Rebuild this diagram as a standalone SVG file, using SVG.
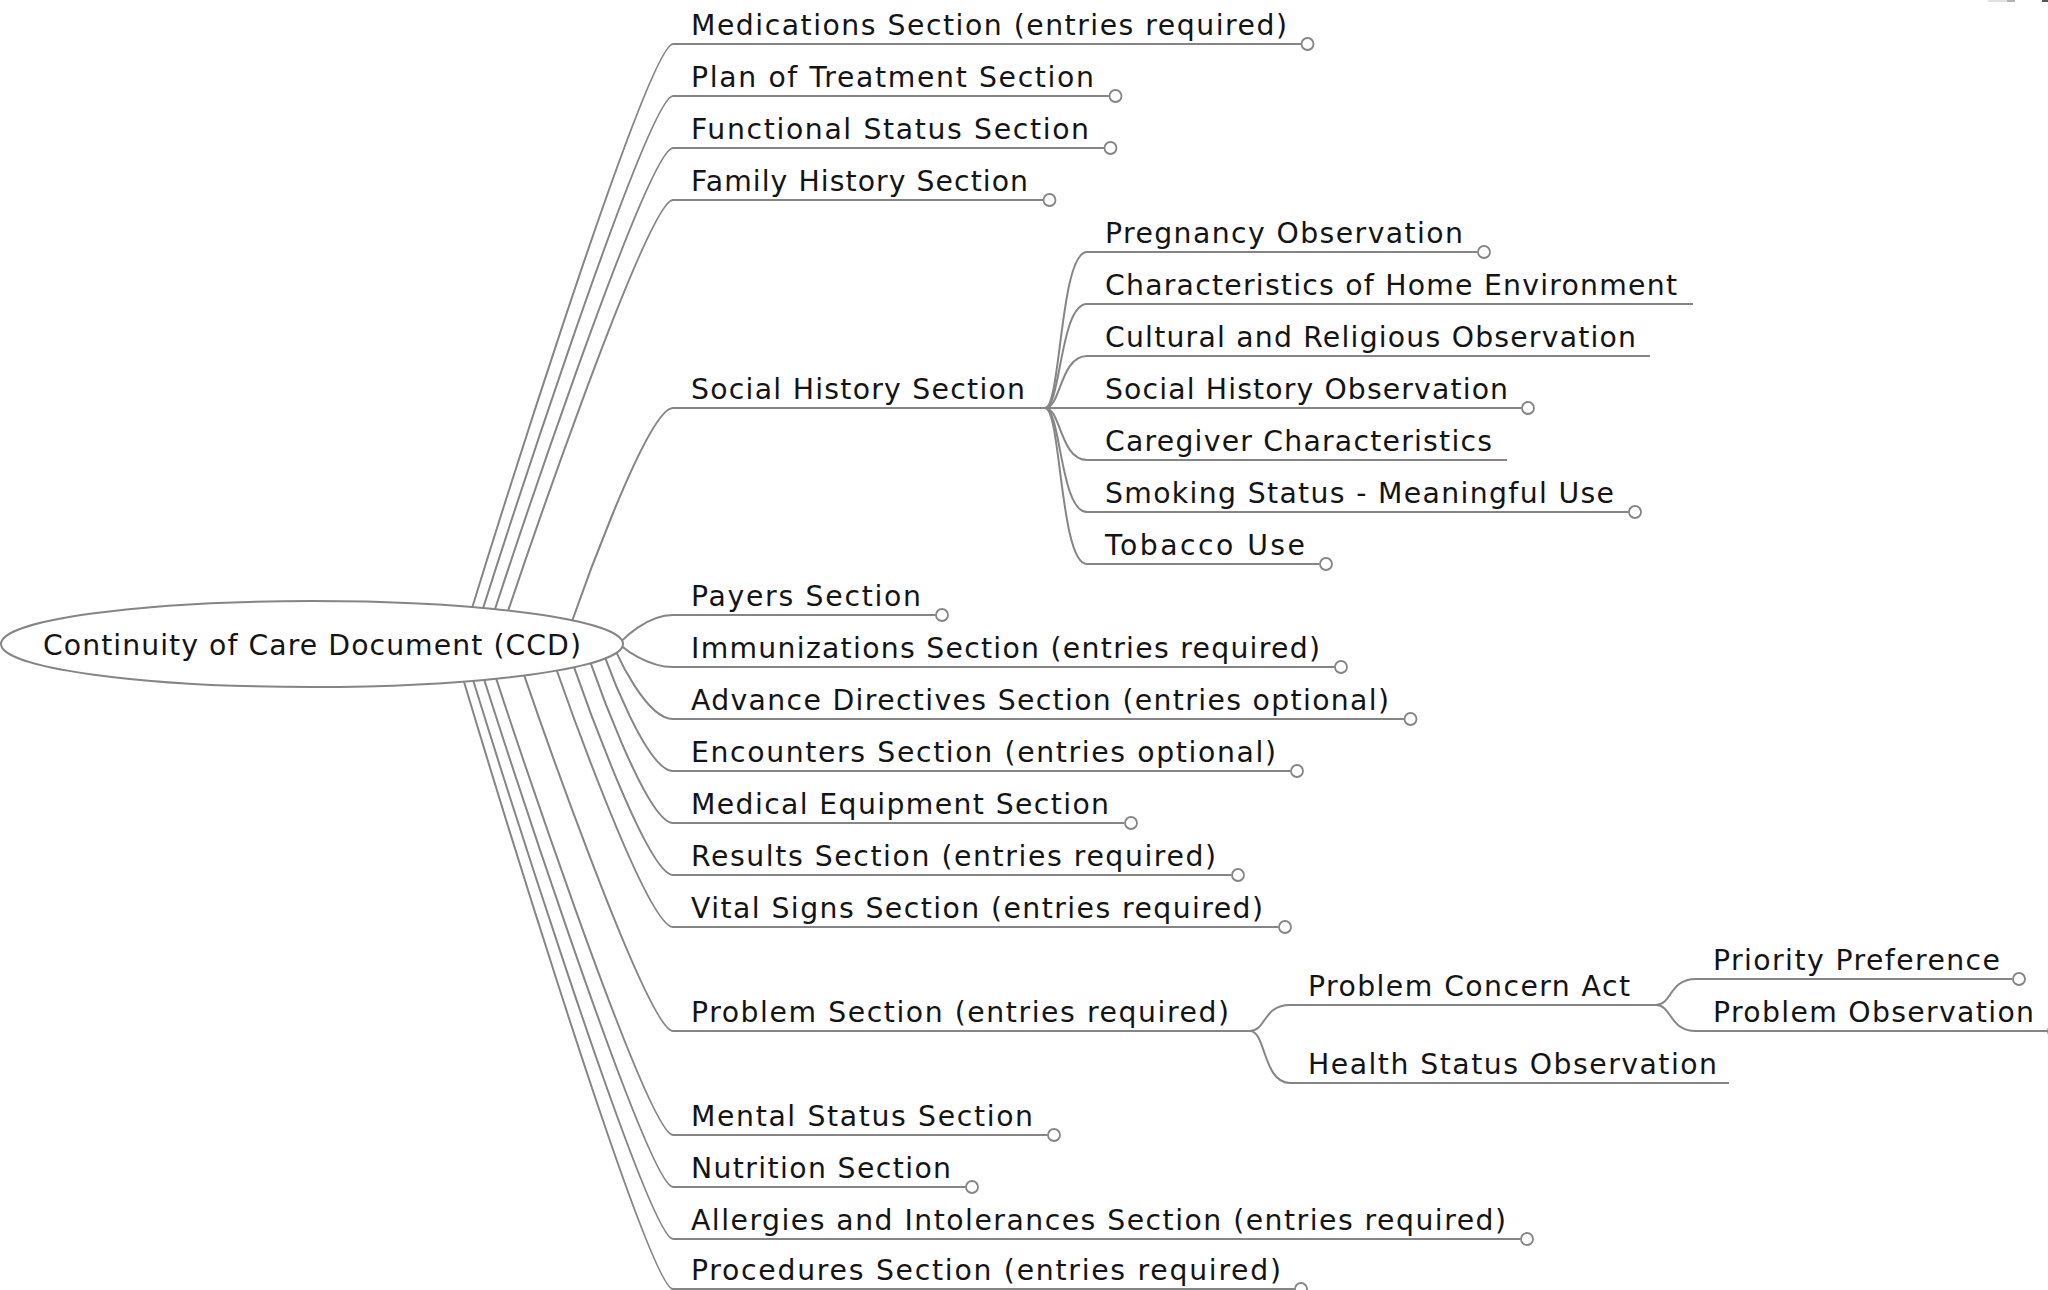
<svg xmlns="http://www.w3.org/2000/svg" width="2048" height="1290" viewBox="0 0 2048 1290">
  <style>
    .lbl { font-family: "DejaVu Sans", Verdana, sans-serif; font-size: 28.3px; fill: #141414; }
    .ul { stroke: #858585; stroke-width: 2; fill: none; }
    .edge { stroke: #858585; stroke-width: 2; fill: none; }
    .fold { stroke: #858585; stroke-width: 1.8; fill: #ffffff; }
    .root { stroke: #858585; stroke-width: 2; fill: #ffffff; }
  </style>
  <rect width="2048" height="1290" fill="#ffffff"/>

  <!-- small toolbar fragments at the top edge -->
  <rect x="1988" y="0" width="19" height="2" fill="#e2e2e2"/>
  <rect x="2007" y="0" width="8" height="2" fill="#b4b4b4"/>
  <rect x="2042" y="0" width="6" height="2" fill="#555555"/>

  <!-- edges -->
  <g id="connectors">
    <!-- root to first-level sections -->
    <path class="edge" d="M472.3,607.2 C472.3,607.2 646,44 673,44"/>
    <path class="edge" d="M483.1,608.1 C483.1,608.1 646,96 673,96"/>
    <path class="edge" d="M495.0,609.2 C495.0,609.2 646,148 673,148"/>
    <path class="edge" d="M508.2,610.6 C508.2,610.6 646,200 673,200"/>
    <path class="edge" d="M572.3,620.5 C572.3,620.5 646,408 673,408"/>
    <path class="edge" d="M622.0,640.6 C622.0,640.6 646,615 673,615"/>
    <path class="edge" d="M622.4,646.7 C622.4,646.7 646,667 673,667"/>
    <path class="edge" d="M616.5,652.7 C616.5,652.7 646,719 673,719"/>
    <path class="edge" d="M605.4,658.3 C605.4,658.3 646,771 673,771"/>
    <path class="edge" d="M590.7,663.1 C590.7,663.1 646,823 673,823"/>
    <path class="edge" d="M574.0,667.2 C574.0,667.2 646,875 673,875"/>
    <path class="edge" d="M556.8,670.5 C556.8,670.5 646,927 673,927"/>
    <path class="edge" d="M524.2,675.4 C524.2,675.4 646,1031 673,1031"/>
    <path class="edge" d="M496.2,678.6 C496.2,678.6 646,1135 673,1135"/>
    <path class="edge" d="M484.2,679.8 C484.2,679.8 646,1187 673,1187"/>
    <path class="edge" d="M473.3,680.8 C473.3,680.8 646,1239 673,1239"/>
    <path class="edge" d="M463.9,681.5 C463.9,681.5 646,1289 673,1289"/>
    <!-- social history children -->
    <path class="edge" d="M1045,408 C1061,408 1060,252 1087,252"/>
    <path class="edge" d="M1045,408 C1061,408 1060,304 1087,304"/>
    <path class="edge" d="M1045,408 C1061,408 1060,356 1087,356"/>
    <path class="edge" d="M1045,408 L1087,408"/>
    <path class="edge" d="M1045,408 C1061,408 1060,460 1087,460"/>
    <path class="edge" d="M1045,408 C1061,408 1060,512 1087,512"/>
    <path class="edge" d="M1045,408 C1061,408 1060,564 1087,564"/>
    <!-- problem section children -->
    <path class="edge" d="M1250,1031 C1266,1031 1263,1005 1290,1005"/>
    <path class="edge" d="M1250,1031 C1266,1031 1263,1083 1290,1083"/>
    <!-- problem concern act children -->
    <path class="edge" d="M1656,1005 C1672,1005 1669,979 1696,979"/>
    <path class="edge" d="M1656,1005 C1672,1005 1669,1031 1696,1031"/>
  </g>

  <!-- root -->
  <g id="n-ccd">
    <ellipse class="root" cx="312" cy="644" rx="311" ry="43"/>
    <text class="lbl" x="312" y="655" text-anchor="middle" textLength="538" lengthAdjust="spacing">Continuity of Care Document (CCD)</text>
  </g>

  <!-- first-level sections -->
  <g id="n-medications">
    <line class="ul" x1="673" y1="44" x2="1301" y2="44"/>
    <circle class="fold" cx="1307.5" cy="44" r="6"/>
    <text class="lbl" x="691" y="35" textLength="596" lengthAdjust="spacing">Medications Section (entries required)</text>
  </g>
  <g id="n-plan-of-treatment">
    <line class="ul" x1="673" y1="96" x2="1109" y2="96"/>
    <circle class="fold" cx="1115.5" cy="96" r="6"/>
    <text class="lbl" x="691" y="87" textLength="403" lengthAdjust="spacing">Plan of Treatment Section</text>
  </g>
  <g id="n-functional-status">
    <line class="ul" x1="673" y1="148" x2="1104" y2="148"/>
    <circle class="fold" cx="1110.5" cy="148" r="6"/>
    <text class="lbl" x="691" y="139" textLength="398" lengthAdjust="spacing">Functional Status Section</text>
  </g>
  <g id="n-family-history">
    <line class="ul" x1="673" y1="200" x2="1043" y2="200"/>
    <circle class="fold" cx="1049.5" cy="200" r="6"/>
    <text class="lbl" x="691" y="191" textLength="337" lengthAdjust="spacing">Family History Section</text>
  </g>
  <g id="n-social-history">
    <line class="ul" x1="673" y1="408" x2="1045" y2="408"/>
    <text class="lbl" x="691" y="399" textLength="334" lengthAdjust="spacing">Social History Section</text>
  </g>
  <g id="n-payers">
    <line class="ul" x1="673" y1="615" x2="935.5" y2="615"/>
    <circle class="fold" cx="942" cy="615" r="6"/>
    <text class="lbl" x="691" y="606" textLength="230" lengthAdjust="spacing">Payers Section</text>
  </g>
  <g id="n-immunizations">
    <line class="ul" x1="673" y1="667" x2="1334.5" y2="667"/>
    <circle class="fold" cx="1341" cy="667" r="6"/>
    <text class="lbl" x="691" y="658" textLength="629" lengthAdjust="spacing">Immunizations Section (entries required)</text>
  </g>
  <g id="n-advance-directives">
    <line class="ul" x1="673" y1="719" x2="1404" y2="719"/>
    <circle class="fold" cx="1410.5" cy="719" r="6"/>
    <text class="lbl" x="691" y="710" textLength="698" lengthAdjust="spacing">Advance Directives Section (entries optional)</text>
  </g>
  <g id="n-encounters">
    <line class="ul" x1="673" y1="771" x2="1290.5" y2="771"/>
    <circle class="fold" cx="1297" cy="771" r="6"/>
    <text class="lbl" x="691" y="762" textLength="585" lengthAdjust="spacing">Encounters Section (entries optional)</text>
  </g>
  <g id="n-medical-equipment">
    <line class="ul" x1="673" y1="823" x2="1124.5" y2="823"/>
    <circle class="fold" cx="1131" cy="823" r="6"/>
    <text class="lbl" x="691" y="814" textLength="418" lengthAdjust="spacing">Medical Equipment Section</text>
  </g>
  <g id="n-results">
    <line class="ul" x1="673" y1="875" x2="1231.5" y2="875"/>
    <circle class="fold" cx="1238" cy="875" r="6"/>
    <text class="lbl" x="691" y="866" textLength="525" lengthAdjust="spacing">Results Section (entries required)</text>
  </g>
  <g id="n-vital-signs">
    <line class="ul" x1="673" y1="927" x2="1278.5" y2="927"/>
    <circle class="fold" cx="1285" cy="927" r="6"/>
    <text class="lbl" x="691" y="918" textLength="572" lengthAdjust="spacing">Vital Signs Section (entries required)</text>
  </g>
  <g id="n-problem">
    <line class="ul" x1="673" y1="1031" x2="1250" y2="1031"/>
    <text class="lbl" x="691" y="1022" textLength="538" lengthAdjust="spacing">Problem Section (entries required)</text>
  </g>
  <g id="n-mental-status">
    <line class="ul" x1="673" y1="1135" x2="1047.5" y2="1135"/>
    <circle class="fold" cx="1054" cy="1135" r="6"/>
    <text class="lbl" x="691" y="1126" textLength="342" lengthAdjust="spacing">Mental Status Section</text>
  </g>
  <g id="n-nutrition">
    <line class="ul" x1="673" y1="1187" x2="965.5" y2="1187"/>
    <circle class="fold" cx="972" cy="1187" r="6"/>
    <text class="lbl" x="691" y="1178" textLength="260" lengthAdjust="spacing">Nutrition Section</text>
  </g>
  <g id="n-allergies">
    <line class="ul" x1="673" y1="1239" x2="1520.5" y2="1239"/>
    <circle class="fold" cx="1527" cy="1239" r="6"/>
    <text class="lbl" x="691" y="1230" textLength="815" lengthAdjust="spacing">Allergies and Intolerances Section (entries required)</text>
  </g>
  <g id="n-procedures">
    <line class="ul" x1="673" y1="1289" x2="1294.5" y2="1289"/>
    <circle class="fold" cx="1301" cy="1289" r="6"/>
    <text class="lbl" x="691" y="1280" textLength="590" lengthAdjust="spacing">Procedures Section (entries required)</text>
  </g>

  <!-- social history entries -->
  <g id="n-pregnancy">
    <line class="ul" x1="1087" y1="252" x2="1477.5" y2="252"/>
    <circle class="fold" cx="1484" cy="252" r="6"/>
    <text class="lbl" x="1105" y="243" textLength="358" lengthAdjust="spacing">Pregnancy Observation</text>
  </g>
  <g id="n-home-environment">
    <line class="ul" x1="1087" y1="304" x2="1693" y2="304"/>
    <text class="lbl" x="1105" y="295" textLength="572" lengthAdjust="spacing">Characteristics of Home Environment</text>
  </g>
  <g id="n-cultural-religious">
    <line class="ul" x1="1087" y1="356" x2="1650" y2="356"/>
    <text class="lbl" x="1105" y="347" textLength="531" lengthAdjust="spacing">Cultural and Religious Observation</text>
  </g>
  <g id="n-social-history-obs">
    <line class="ul" x1="1087" y1="408" x2="1521.5" y2="408"/>
    <circle class="fold" cx="1528" cy="408" r="6"/>
    <text class="lbl" x="1105" y="399" textLength="403" lengthAdjust="spacing">Social History Observation</text>
  </g>
  <g id="n-caregiver">
    <line class="ul" x1="1087" y1="460" x2="1507" y2="460"/>
    <text class="lbl" x="1105" y="451" textLength="387" lengthAdjust="spacing">Caregiver Characteristics</text>
  </g>
  <g id="n-smoking-status">
    <line class="ul" x1="1087" y1="512" x2="1628.5" y2="512"/>
    <circle class="fold" cx="1635" cy="512" r="6"/>
    <text class="lbl" x="1105" y="503" textLength="509" lengthAdjust="spacing">Smoking Status - Meaningful Use</text>
  </g>
  <g id="n-tobacco-use">
    <line class="ul" x1="1087" y1="564" x2="1319.5" y2="564"/>
    <circle class="fold" cx="1326" cy="564" r="6"/>
    <text class="lbl" x="1105" y="555" textLength="200" lengthAdjust="spacing">Tobacco Use</text>
  </g>

  <!-- problem section entries -->
  <g id="n-problem-concern">
    <line class="ul" x1="1290" y1="1005" x2="1656" y2="1005"/>
    <text class="lbl" x="1308" y="996" textLength="322" lengthAdjust="spacing">Problem Concern Act</text>
  </g>
  <g id="n-health-status">
    <line class="ul" x1="1290" y1="1083" x2="1729" y2="1083"/>
    <text class="lbl" x="1308" y="1074" textLength="409" lengthAdjust="spacing">Health Status Observation</text>
  </g>
  <g id="n-priority-preference">
    <line class="ul" x1="1696" y1="979" x2="2012.5" y2="979"/>
    <circle class="fold" cx="2019" cy="979" r="6"/>
    <text class="lbl" x="1713" y="970" textLength="287" lengthAdjust="spacing">Priority Preference</text>
  </g>
  <g id="n-problem-observation">
    <line class="ul" x1="1696" y1="1031" x2="2048" y2="1031"/>
    <circle class="fold" cx="2054" cy="1031" r="6"/>
    <text class="lbl" x="1713" y="1022" textLength="321" lengthAdjust="spacing">Problem Observation</text>
  </g>
</svg>
